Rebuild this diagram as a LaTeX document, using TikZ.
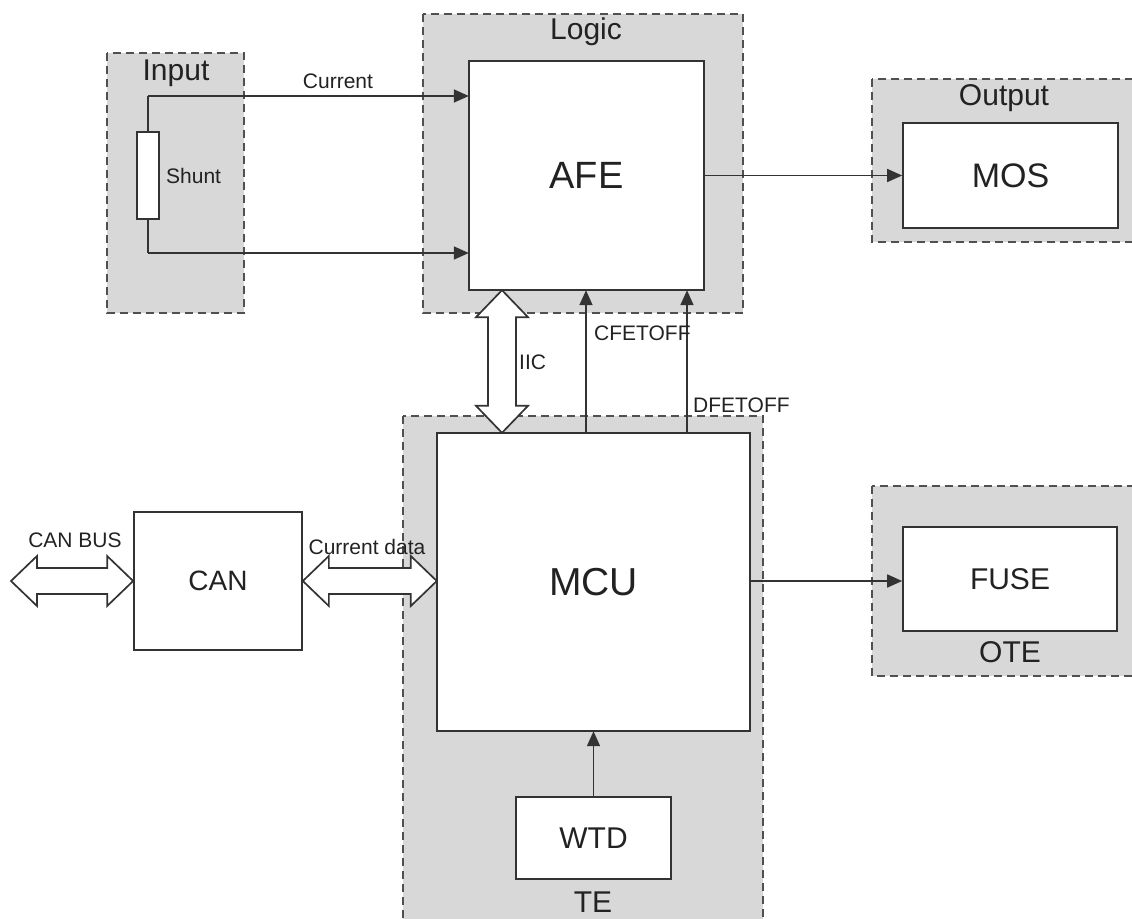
\documentclass[tikz,border=0pt]{standalone}
\usepackage{fontspec}
\setmainfont{Liberation Sans}
\usetikzlibrary{arrows.meta,calc}
\definecolor{grpfill}{HTML}{D8D8D8}
\definecolor{grpline}{HTML}{505050}
\definecolor{boxline}{HTML}{333333}
\definecolor{txt}{HTML}{222222}
\tikzset{
  grp/.style={fill=grpfill,draw=grpline,line width=1.8pt,dash pattern=on 8pt off 5pt},
  blk/.style={draw=boxline,fill=white,line width=1.7pt},
  conn/.style={draw=boxline,line width=1.7pt,-{Triangle[length=15pt,width=13pt]}},
  wire/.style={draw=boxline,line width=1.7pt},
  dbl/.style={draw=boxline,fill=white,line width=1.7pt,line join=miter},
  lbl/.style={text=txt,font=\fontsize{21}{24}\selectfont,inner sep=0pt},
  glbl/.style={text=txt,font=\fontsize{30}{34}\selectfont,inner sep=0pt},
}
\begin{document}
\begin{tikzpicture}[x=1pt,y=-1pt]
\useasboundingbox (0,0) rectangle (1132,918);
% groups
\draw[grp] (107,53) rectangle (244,313);
\draw[grp] (423,14) rectangle (743,313);
\draw[grp] (872,79) rectangle (1145,242);
\draw[grp] (403,416) rectangle (763,935);
\draw[grp] (872,486) rectangle (1145,676);
\node[glbl] (linput) at (176,73) {Input};
\node[glbl] (llogic) at (586,32) {Logic};
\node[glbl] (loutput) at (1004,98) {Output};
\node[glbl] (lte) at (593,902) {TE};
\node[glbl] (lote) at (1010,652) {OTE};
% blocks
\draw[blk] (469,61) rectangle (704,290);
\node[draw=none,minimum width=235pt,minimum height=229pt,inner sep=0pt,text=txt,font=\fontsize{38}{42}\selectfont] (afe) at (586.5,175.5) {AFE};
\draw[blk] (437,433) rectangle (750,731);
\node[draw=none,minimum width=313pt,minimum height=298pt,inner sep=0pt,text=txt,font=\fontsize{39}{43}\selectfont] (mcu) at (593.5,582) {MCU};
\node[blk,minimum width=215pt,minimum height=105pt,inner sep=0pt,text=txt,font=\fontsize{34}{38}\selectfont] (mos) at (1010.5,175.5) {MOS};
\node[blk,minimum width=214pt,minimum height=104pt,inner sep=0pt,text=txt,font=\fontsize{30}{34}\selectfont] (fuse) at (1010,579) {FUSE};
\node[blk,minimum width=155pt,minimum height=82pt,inner sep=0pt,text=txt,font=\fontsize{30}{34}\selectfont] (wtd) at (593.5,838) {WTD};
\node[blk,minimum width=168pt,minimum height=138pt,inner sep=0pt,text=txt,font=\fontsize{28}{32}\selectfont] (can) at (218,581) {CAN};
\node[blk,minimum width=22pt,minimum height=87pt,inner sep=0pt] (shunt) at (148,175.5) {};
\node[lbl,anchor=west] (lshunt) at (166,176) {Shunt};
% input wires
\coordinate (xin) at (0,96);
\coordinate (xin2) at (0,253);
\draw[wire] (shunt.north) -- (shunt.north |- xin) coordinate (w1);
\draw[conn] (w1) -- (afe.west |- xin);
\draw[wire] (shunt.south) -- (shunt.south |- xin2) coordinate (w2);
\draw[conn] (w2) -- (afe.west |- xin2);
\node[lbl] (lcurrent) at (338,81) {Current};
% AFE -> MOS
\draw[conn] (afe.east |- mos.west) -- (mos.west);
% MCU -> FUSE
\coordinate (yfuse) at (0,581);
\draw[conn] (mcu.east |- yfuse) -- (fuse.west |- yfuse);
% WTD -> MCU
\draw[conn] (wtd.north) -- (mcu.south -| wtd.north);
% CFETOFF / DFETOFF
\coordinate (xc) at (586,0);
\coordinate (xd) at (687,0);
\draw[conn] (mcu.north -| xc) -- (afe.south -| xc);
\draw[conn] (mcu.north -| xd) -- (afe.south -| xd);
\node[lbl,anchor=west] (lcfet) at (594,333) {CFETOFF};
\node[lbl,anchor=west] (ldfet) at (693,405) {DFETOFF};
% IIC double arrow
\coordinate (xi) at (502,0);
\coordinate (iicT) at (afe.south -| xi);
\coordinate (iicB) at (mcu.north -| xi);
\draw[dbl] let \p1=(iicT), \p2=(iicB) in
  (\x1,\y1) -- (\x1+26pt,\y1-27pt) -- (\x1+14pt,\y1-27pt) -- (\x1+14pt,\y2+27pt)
  -- (\x1+26pt,\y2+27pt) -- (\x2,\y2) -- (\x1-26pt,\y2+27pt) -- (\x1-14pt,\y2+27pt)
  -- (\x1-14pt,\y1-27pt) -- (\x1-26pt,\y1-27pt) -- cycle;
\node[lbl,anchor=west] (liic) at (519,362) {IIC};
% CAN BUS double arrow
\coordinate (busL) at (11,581);
\draw[dbl] let \p1=(busL), \p2=(can.west) in
  (\x1,\y1) -- (\x1+26pt,\y1+25pt) -- (\x1+26pt,\y1+13pt) -- (\x2-26pt,\y1+13pt)
  -- (\x2-26pt,\y1+25pt) -- (\x2,\y2) -- (\x2-26pt,\y1-25pt) -- (\x2-26pt,\y1-13pt)
  -- (\x1+26pt,\y1-13pt) -- (\x1+26pt,\y1-25pt) -- cycle;
\node[lbl] (lbus) at (75,540) {CAN BUS};
% Current data double arrow
\coordinate (cdR) at (mcu.west |- can.east);
\draw[dbl] let \p1=(can.east), \p2=(cdR) in
  (\x1,\y1) -- (\x1+26pt,\y1+25pt) -- (\x1+26pt,\y1+13pt) -- (\x2-26pt,\y1+13pt)
  -- (\x2-26pt,\y1+25pt) -- (\x2,\y2) -- (\x2-26pt,\y1-25pt) -- (\x2-26pt,\y1-13pt)
  -- (\x1+26pt,\y1-13pt) -- (\x1+26pt,\y1-25pt) -- cycle;
\node[lbl] (lcd) at (367,547) {Current data};
\end{tikzpicture}
\end{document}
